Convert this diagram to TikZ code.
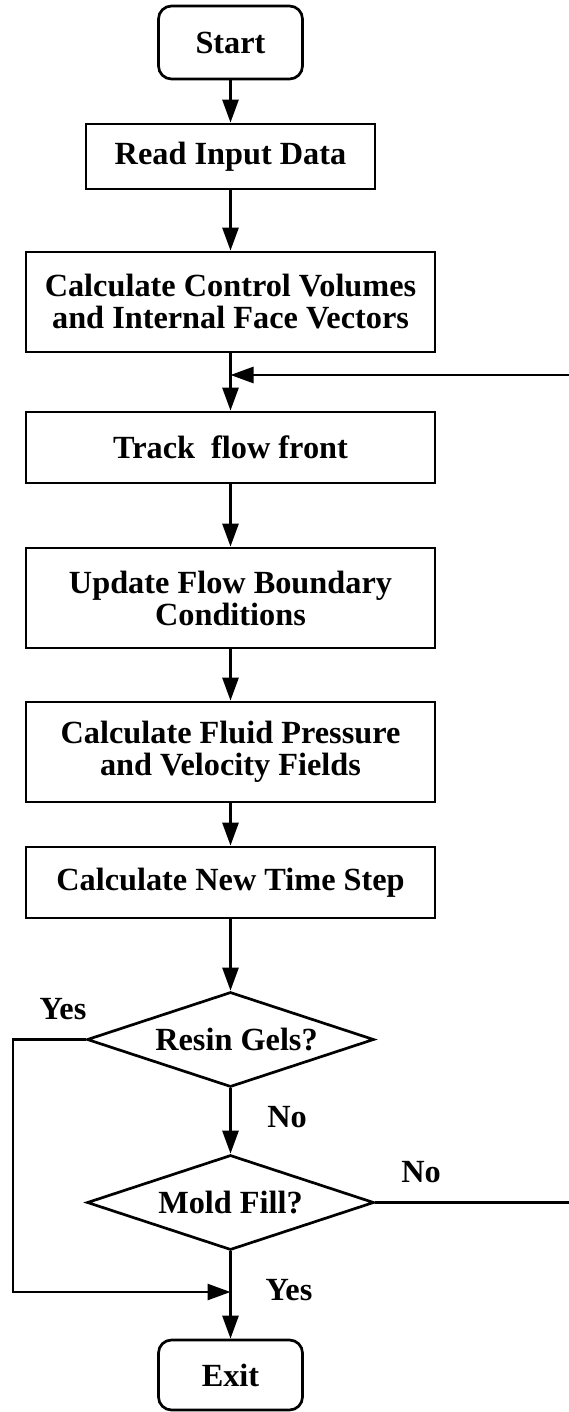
\documentclass[tikz,border=0pt]{standalone}
\usepackage{fontspec}
\setmainfont{Liberation Serif}
\usetikzlibrary{arrows.meta,shapes.geometric}

\tikzset{
  flow/.style={line width=2.7pt},
  arr/.style={flow, -{Triangle[length=23pt,width=16pt]}},
  txt/.style={font=\fontsize{32.3}{32}\selectfont\bfseries, align=center},
  procbox/.style={txt, draw, flow, rectangle, inner sep=0pt, minimum width=409pt},
  termbox/.style={txt, draw, flow, rectangle, rounded corners=13pt, inner sep=0pt,
                  minimum width=144pt},
  decision/.style={txt, draw, flow, diamond, aspect=3, inner sep=0pt,
                   minimum width=287pt, minimum height=95pt},
  lbl/.style={txt, inner sep=0pt}
}

\begin{document}
\begin{tikzpicture}[x=1pt, y=-1pt]
  \useasboundingbox (0,0) rectangle (569,1412);

  % process chain
  \node[termbox, minimum height=73pt] (start) at (230.5,42.5) {Start};
  \node[procbox, minimum width=289pt, minimum height=65pt] (read) at (230.5,156.5) {Read Input Data};
  \node[procbox, minimum height=100pt] (calc) at (230.5,302) {Calculate Control Volumes\\and Internal Face Vectors};
  \node[procbox, minimum height=71pt] (track) at (230.5,447.5) {Track\ \ flow front};
  \node[procbox, minimum height=100pt] (update) at (230.5,598) {Update Flow Boundary\\Conditions};
  \node[procbox, minimum height=100pt] (fluid) at (230.5,752) {Calculate Fluid Pressure\\and Velocity Fields};
  \node[procbox, minimum height=71pt] (newstep) at (230.5,882.5) {Calculate New Time Step};
  \node[decision] (resin) at (230.5,1039.5) {\hspace*{12pt}Resin Gels?};
  \node[decision] (mold) at (230.5,1202.5) {Mold Fill?};
  \node[termbox, minimum height=70pt] (exit) at (230.5,1375) {Exit};

  % junction points of the loop and the bypass
  \coordinate (fb) at (230.5,375);
  \coordinate (fbr) at (569,375);
  \coordinate (noend) at (569,1202.5);
  \coordinate (yl) at (13,1039.5);
  \coordinate (yb) at (13,1292);
  \coordinate (yj) at (230.5,1292);

  % connectors
  \draw[arr] (start) -- (read);
  \draw[arr] (read) -- (calc);
  \draw[arr] (calc) -- (track);
  \draw[arr] (fbr) -- (fb);
  \draw[arr] (track) -- (update);
  \draw[arr] (update) -- (fluid);
  \draw[arr] (fluid) -- (newstep);
  \draw[arr] (newstep) -- (resin);
  \draw[arr] (resin) -- (mold);
  \draw[arr] (mold) -- (exit);
  \draw[flow] (mold.east) -- (noend);
  \draw[arr] (resin.west) -- (yl) -- (yb) -- (yj);

  % branch labels
  \node[lbl] (yes1) at (63,1009) {Yes};
  \node[lbl] (no1) at (287,1117) {No};
  \node[lbl] (no2) at (421,1172) {No};
  \node[lbl] (yes2) at (289,1290) {Yes};
\end{tikzpicture}
\end{document}
